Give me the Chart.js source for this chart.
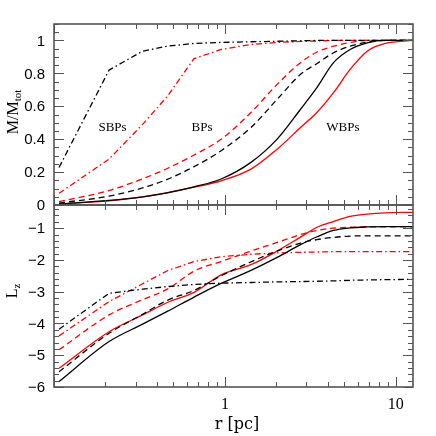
<!DOCTYPE html>
<html>
<head>
<meta charset="utf-8">
<script src="https://cdn.jsdelivr.net/npm/chart.js@4.4.1/dist/chart.umd.min.js"></script>
<style>
  html, body { margin: 0; padding: 0; background: #fff; }
  #wrap { position: relative; width: 436px; height: 436px; }
  canvas { position: absolute; left: 0; top: 0; }
</style>
</head>
<body>
<div id="wrap">
  <canvas id="massChart" width="436" height="436"></canvas>
  <canvas id="lzChart" width="436" height="436"></canvas>
</div>
<script>
// radius grid [pc]
const radii = [0.107, 0.21, 0.33, 0.46, 0.66, 0.95, 1.42, 2.02, 2.77, 3.46, 4.32, 5.4, 6.8, 8.7, 12.6];

// top panel: M/Mtot
const massSBPsBlack = [0.228, 0.82, 0.935, 0.965, 0.982, 0.988, 0.992, 0.995, 0.998, 1, 1, 1, 1, 1, 1];
const massSBPsRed   = [0.071, 0.279, 0.49, 0.66, 0.89, 0.945, 0.975, 0.988, 0.994, 0.997, 1, 1, 1, 1, 1];
const massBPsBlack  = [0.012, 0.054, 0.104, 0.156, 0.233, 0.33, 0.471, 0.642, 0.794, 0.86, 0.925, 0.965, 0.99, 1, 1];
const massBPsRed    = [0.02, 0.088, 0.159, 0.222, 0.304, 0.40, 0.562, 0.733, 0.865, 0.93, 0.965, 0.988, 1, 1, 1];
const massWBPsBlack = [0.006, 0.028, 0.05, 0.074, 0.11, 0.158, 0.259, 0.40, 0.582, 0.715, 0.865, 0.945, 0.986, 1, 1];
const massWBPsRed   = [0.006, 0.025, 0.049, 0.075, 0.108, 0.147, 0.218, 0.339, 0.471, 0.564, 0.683, 0.824, 0.935, 0.982, 1];

// bottom panel: Lz
const lzSBPsBlack = [-4.18, -3.05, -2.92, -2.84, -2.77, -2.73, -2.71, -2.69, -2.68, -2.67, -2.66, -2.64, -2.63, -2.62, -2.61];
const lzSBPsRed   = [-4.39, -3.31, -2.75, -2.34, -2.05, -1.90, -1.82, -1.78, -1.76, -1.75, -1.74, -1.74, -1.74, -1.74, -1.74];
const lzBPsBlack  = [-5.52, -4.31, -3.71, -3.27, -2.96, -2.50, -2.06, -1.72, -1.47, -1.36, -1.29, -1.25, -1.24, -1.24, -1.24];
const lzBPsRed    = [-4.83, -3.73, -3.25, -2.92, -2.35, -2.05, -1.72, -1.45, -1.20, -1.07, -1.0, -0.97, -0.96, -0.96, -0.96];
const lzWBPsBlack = [-5.83, -4.57, -4.02, -3.62, -3.17, -2.74, -2.33, -1.92, -1.52, -1.27, -1.07, -0.99, -0.96, -0.95, -0.95];
const lzWBPsRed   = [-5.41, -4.26, -3.73, -3.34, -3.02, -2.47, -2.15, -1.72, -1.28, -0.97, -0.79, -0.63, -0.56, -0.52, -0.50];

const panelLabels = ["SBPs", "BPs", "WBPs"];
const labelRadii = [0.22, 0.735, 4.9];

const DASH = [6, 4];
const DASHDOT = [6, 3, 1.5, 3];
const FRAME = "#555";

function series(vals, color, dash, linear) {
  return {
    data: radii.map((r, i) => ({ x: r, y: vals[i] })),
    borderColor: color,
    borderWidth: 1.3,
    borderDash: dash,
    pointRadius: 0,
    fill: false,
    tension: 0,
    cubicInterpolationMode: linear ? "default" : "monotone",
  };
}

function xTicks(min, max) {
  let out = [];
  [0.1, 1, 10].forEach((d) => {
    for (let k = 1; k <= 9; k++) {
      let v = k * d;
      if (v >= min && v <= max) out.push({ v: v, major: k == 1 });
    }
  });
  return out;
}

function yTicks(min, max, step, majorStep) {
  let out = [];
  let start = Math.ceil(min / step - 1e-6);
  for (let i = start; i * step <= max + 1e-9; i++) {
    let v = i * step;
    let m = Math.abs(v / majorStep - Math.round(v / majorStep)) < 1e-6;
    out.push({ v: v, major: m });
  }
  return out;
}

function frameAndTicks(chart, yStep, yMajor, yLabel) {
  const ctx = chart.ctx;
  const a = chart.chartArea;
  const xs = chart.scales.x;
  const ys = chart.scales.y;
  ctx.save();
  ctx.strokeStyle = FRAME;
  ctx.lineWidth = 1;
  ctx.beginPath();
  xTicks(xs.min, xs.max).forEach((t) => {
    const px = Math.round(xs.getPixelForValue(t.v)) + 0.5;
    const len = t.major ? 10 : 5;
    ctx.moveTo(px, a.top); ctx.lineTo(px, a.top + len);
    ctx.moveTo(px, a.bottom); ctx.lineTo(px, a.bottom - len);
  });
  yTicks(ys.min, ys.max, yStep, yMajor).forEach((t) => {
    const py = Math.round(ys.getPixelForValue(t.v)) + 0.5;
    const len = t.major ? 10 : 5;
    ctx.moveTo(a.left, py); ctx.lineTo(a.left + len, py);
    ctx.moveTo(a.right, py); ctx.lineTo(a.right - len, py);
  });
  ctx.stroke();
  ctx.lineWidth = 1.6;
  ctx.strokeRect(a.left, a.top, a.right - a.left, a.bottom - a.top);

  ctx.fillStyle = "#000";
  ctx.font = "15px 'Liberation Sans', sans-serif";
  ctx.textAlign = "right";
  ctx.textBaseline = "middle";
  yTicks(ys.min, ys.max, yStep, yMajor).forEach((t) => {
    if (!t.major) return;
    let v = Math.round(t.v * 100) / 100;
    ctx.fillText(yLabel(v), 45, ys.getPixelForValue(t.v) + 1);
  });
  ctx.restore();
}

const massPanel = {
  id: "massPanel",
  afterDraw(chart) {
    frameAndTicks(chart, 0.05, 0.2, (v) => (v == 0 ? "0" : v == 1 ? "1" : v.toFixed(1)));
    const ctx = chart.ctx;
    const xs = chart.scales.x;
    const ys = chart.scales.y;
    ctx.save();
    ctx.fillStyle = "#000";
    ctx.font = "13px 'Liberation Serif', serif";
    ctx.textAlign = "center";
    ctx.textBaseline = "middle";
    panelLabels.forEach((s, i) => {
      ctx.fillText(s, xs.getPixelForValue(labelRadii[i]), ys.getPixelForValue(0.47));
    });
    // y title M/M_tot
    ctx.translate(13, 112);
    ctx.rotate(-Math.PI / 2);
    ctx.font = "16px 'Liberation Serif', serif";
    ctx.textAlign = "left";
    ctx.textBaseline = "alphabetic";
    const main = "M/M";
    const w = ctx.measureText(main).width;
    ctx.font = "11px 'Liberation Serif', serif";
    const ws = ctx.measureText("tot").width;
    const x0 = -(w + ws) / 2;
    ctx.font = "16px 'Liberation Serif', serif";
    ctx.fillText(main, x0, 5);
    ctx.font = "11px 'Liberation Serif', serif";
    ctx.fillText("tot", x0 + w, 8);
    ctx.restore();
  },
};

const lzPanel = {
  id: "lzPanel",
  afterDraw(chart) {
    frameAndTicks(chart, 0.2, 1, (v) => (v < 0 ? "\u2212" + Math.abs(v) : String(v)));
    const ctx = chart.ctx;
    const xs = chart.scales.x;
    const a = chart.chartArea;
    ctx.save();
    ctx.fillStyle = "#000";
    ctx.font = "16px 'Liberation Serif', serif";
    ctx.textAlign = "center";
    ctx.textBaseline = "middle";
    ctx.fillText("1", xs.getPixelForValue(1), a.bottom + 18);
    ctx.fillText("10", xs.getPixelForValue(10), a.bottom + 18);
    ctx.font = "16px 'DejaVu Serif', serif";
    ctx.fillText("r [pc]", 237, 425);
    // y title L_z
    ctx.translate(12, 291);
    ctx.rotate(-Math.PI / 2);
    ctx.font = "16px 'Liberation Serif', serif";
    ctx.textAlign = "left";
    ctx.textBaseline = "alphabetic";
    const w = ctx.measureText("L").width;
    ctx.font = "11px 'Liberation Serif', serif";
    const ws = ctx.measureText("z").width;
    const x0 = -(w + ws) / 2;
    ctx.font = "16px 'Liberation Serif', serif";
    ctx.fillText("L", x0, 5);
    ctx.font = "11px 'Liberation Serif', serif";
    ctx.fillText("z", x0 + w, 8);
    ctx.restore();
  },
};

function baseOptions(padding, yMin, yMax) {
  return {
    responsive: false,
    animation: false,
    devicePixelRatio: 1,
    layout: { padding: padding },
    scales: {
      x: { type: "logarithmic", min: 0.1, max: 12.6, display: false },
      y: { type: "linear", min: yMin, max: yMax, display: false },
    },
    plugins: {
      legend: { display: false },
      tooltip: { enabled: false },
    },
  };
}

new Chart(document.getElementById("massChart"), {
  type: "line",
  data: {
    datasets: [
      series(massSBPsBlack, "#000", DASHDOT, true),
      series(massBPsBlack, "#000", DASH),
      series(massWBPsBlack, "#000", []),
      series(massSBPsRed, "#ff0000", DASHDOT, true),
      series(massBPsRed, "#ff0000", DASH),
      series(massWBPsRed, "#ff0000", []),
    ],
  },
  options: baseOptions({ left: 54, right: 23, top: 24, bottom: 231 }, 0, 1.1),
  plugins: [massPanel],
});

new Chart(document.getElementById("lzChart"), {
  type: "line",
  data: {
    datasets: [
      series(lzSBPsBlack, "#000", DASHDOT, true),
      series(lzBPsBlack, "#000", DASH),
      series(lzWBPsBlack, "#000", []),
      series(lzSBPsRed, "#ff0000", DASHDOT, true),
      series(lzBPsRed, "#ff0000", DASH),
      series(lzWBPsRed, "#ff0000", []),
    ],
  },
  options: baseOptions({ left: 54, right: 23, top: 205, bottom: 49 }, -6, -0.27),
  plugins: [lzPanel],
});
</script>
</body>
</html>
